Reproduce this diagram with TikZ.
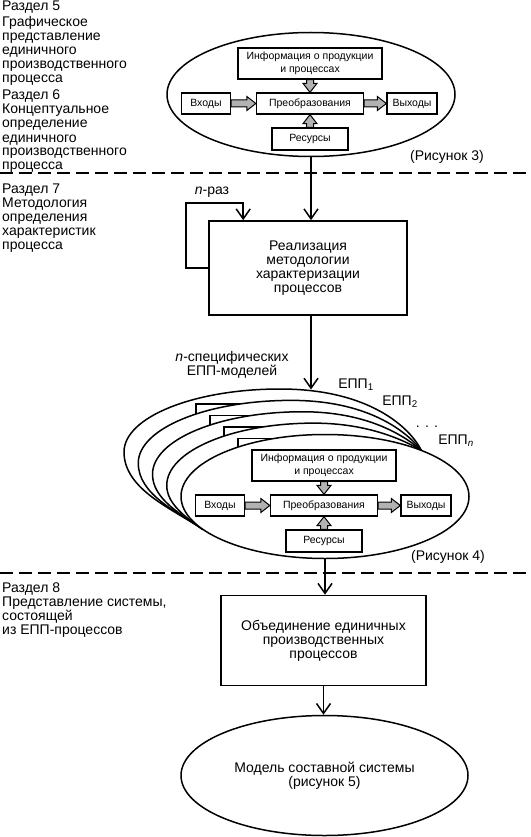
\documentclass[tikz,border=0pt]{standalone}
\usepackage{fontspec}
\setmainfont{Liberation Sans}
\usetikzlibrary{arrows.meta,calc,shapes.geometric}

\tikzset{
  ibox/.style={draw, line width=1.3pt, inner sep=0pt, align=center, font=\fontsize{10.5}{12.5}\selectfont},
  bbox/.style={draw, line width=1.6pt, inner sep=0pt, align=center, font=\fontsize{14}{14}\selectfont},
  ell/.style={ellipse, draw, line width=1.5pt, inner sep=0pt, fill=white, align=center, font=\fontsize{14}{14}\selectfont},
  arr/.style={line width=1.5pt, -{Straight Barb[length=10pt,width=14pt]}},
  fatstyle/.style={fill=black!30, draw=black, line width=1pt, line join=miter},
  sep/.style={line width=1.8pt, dash pattern=on 13pt off 6pt},
  lbl/.style={font=\fontsize{14}{14}\selectfont, align=left, inner sep=0pt, anchor=north west},
  txt/.style={font=\fontsize{14}{14}\selectfont, inner sep=0pt, align=center},
  arcline/.style={line width=1.5pt},
}

\newcommand\fatarrow[2]{%
  \coordinate (fah) at ($(#2)!9pt!(#1)$);
  \filldraw[fatstyle] ($(#1)!3.5pt!90:(#2)$) -- ($(fah)!3.5pt!90:(#2)$) -- ($(fah)!7pt!90:(#2)$) -- (#2) -- ($(fah)!7pt!-90:(#2)$) -- ($(fah)!3.5pt!-90:(#2)$) -- ($(#1)!3.5pt!-90:(#2)$) -- cycle;}

\newcommand\procfig[3]{%
  \begin{scope}[shift={(#2,#3)}]
    \node[ibox, minimum width=144pt, minimum height=31pt] (#1info) at (-1,-31) {Информация о продукции\\и процессах};
    \node[ibox, minimum width=49pt, minimum height=21pt] (#1in) at (-105,9) {Входы};
    \node[ibox, minimum width=107pt, minimum height=21pt] (#1pre) at (-1,9) {Преобразования};
    \node[ibox, minimum width=50pt, minimum height=21pt] (#1out) at (101,9) {Выходы};
    \node[ibox, minimum width=76pt, minimum height=22pt] (#1res) at (-1,44.5) {Ресурсы};
  \end{scope}
  \fatarrow{#1in.east}{#1pre.west}
  \fatarrow{#1pre.east}{#1out.west}
  \fatarrow{#1info.south}{#1pre.north}
  \fatarrow{#1res.north}{#1pre.south}
}

\newcommand\layer[1]{%
  \def\lm{#1}%
  \coordinate (a1) at ({(1-\lm)*188.6+\lm*174.1},{(1-\lm)*519.5+\lm*509.6});
  \coordinate (a2) at ({(1-\lm)*181+\lm*124},{(1-\lm)*508.1+\lm*490});
  \coordinate (a3) at ({(1-\lm)*181+\lm*124},{(1-\lm)*496.5+\lm*452});
  \coordinate (a4) at ({(1-\lm)*181+\lm*124},{(1-\lm)*462.3+\lm*417.2});
  \coordinate (a5) at ({(1-\lm)*245.5+\lm*193.8},{(1-\lm)*434.5+\lm*389});
  \coordinate (a6) at ({(1-\lm)*325+\lm*280},{(1-\lm)*434.5+\lm*389});
  \coordinate (a7) at ({(1-\lm)*360.6+\lm*370},{(1-\lm)*434.5+\lm*389});
  \coordinate (a8) at ({(1-\lm)*395+\lm*410.2},{(1-\lm)*440.1+\lm*428.1});
  \coordinate (bc) at ($(fiNW)+({-56*\lm},{-46*\lm})$);
  \fill[white] (P1) .. controls (a1) and (a2) .. (a3) .. controls (a4) and (a5) .. (a6) .. controls (a7) and (a8) .. (P2) -- cycle;
  \begin{scope}
    \clip (P1) .. controls (a1) and (a2) .. (a3) .. controls (a4) and (a5) .. (a6) .. controls (a7) and (a8) .. (P2) -- cycle;
    \draw[line width=1.3pt] ($(bc)+(0,30)$) -- (bc) -- ($(bc)+(60,0)$);
  \end{scope}
  \draw[arcline] (P1) .. controls (a1) and (a2) .. (a3) .. controls (a4) and (a5) .. (a6) .. controls (a7) and (a8) .. (P2);
}

\begin{document}
\begin{tikzpicture}[x=1pt, y=-1pt]
\useasboundingbox (0,0) rectangle (530,837);

% left section labels
\node[lbl] (s5) at (2,1) {\strut Раздел 5\\Графическое\\представление\\единичного\\производственного\\процесса};
\node[lbl] (s6) at (2,90) {\strut Раздел 6\\Концептуальное\\определение\\единичного\\производственного\\процесса};
\node[lbl] (s7) at (2,183.5) {\strut Раздел 7\\Методология\\определения\\характеристик\\процесса};
\node[lbl] (s8) at (2,582) {\strut Раздел 8\\Представление системы,\\состоящей\\из ЕПП-процессов};

% separators
\draw[sep] (0,173) -- (530,173);
\draw[sep] (0,573) -- (530,573);

% top figure
\node[ell, minimum width=288pt, minimum height=124pt] (e3) at (311,94.5) {};
\procfig{t}{311}{94.5}
\node[txt] (fig3) at (447,157) {(Рисунок 3)};

% methodology box
\node[bbox, minimum width=198pt, minimum height=94pt] (real) at (308,268) {Реализация\\методологии\\характеризации\\процессов};
\draw[arr] (e3.south) -- (e3.south |- real.north);
\coordinate (loopc) at (186,203);
\draw[arr] (real.west) -| (loopc) -| ($(real.north west)+(35,0)$);
\node[txt] (nraz) at (212,192) {\textit{n}-раз};

% stacked process models
\coordinate (P1) at (202.9,529.4);
\coordinate (P2) at (421.4,450.4);
\coordinate (fiNW) at (252,450);
\layer{1}
\layer{0.75}
\layer{0.5}
\layer{0.25}
\node[ell, minimum width=288pt, minimum height=124pt] (fell) at (325,496.5) {};
\procfig{f}{325}{496.5}
\node[txt] (fig4) at (448,557) {(Рисунок 4)};

\coordinate (ept) at (311,389.5);
\draw[arr] (real.south -| ept) -- (ept);
\node[txt] (nspec) at (232,365) {\textit{n}-специфических\\ЕПП-моделей};
\node[txt] (epp1) at (356,385) {ЕПП\textsubscript{1}};
\node[txt] (epp2) at (400,402) {ЕПП\textsubscript{2}};
\node[txt] (dots) at (427,427) {. . .};
\node[txt] (eppn) at (456,441) {ЕПП\textsubscript{\textit{n}}};

% combination
\node[bbox, minimum width=205pt, minimum height=90pt] (comb) at (323.5,640.5) {Объединение единичных\\производственных\\процессов};
\draw[arr] (fell.south) -- (fell.south |- comb.north);
\node[ell, minimum width=287pt, minimum height=120pt] (e5) at (324.5,775.5) {Модель составной системы\\(рисунок 5)};
\draw[arr] (comb.south) -- (comb.south |- e5.north);
\end{tikzpicture}
\end{document}
